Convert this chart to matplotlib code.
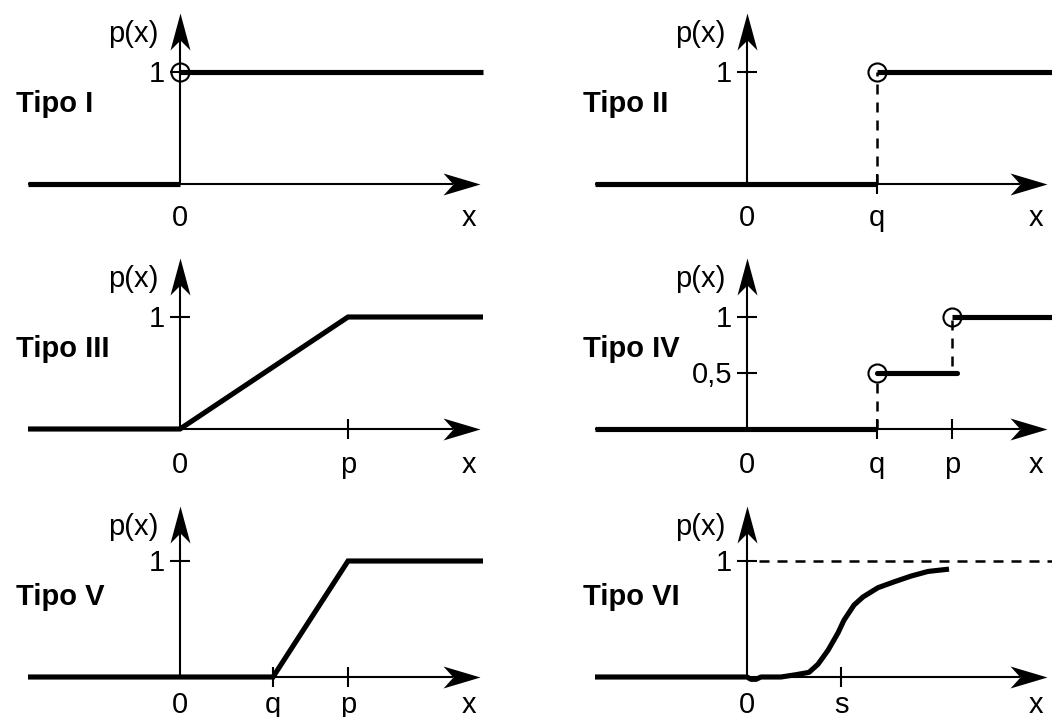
#Six types of p(x) step / ramp functions drawn as hand-style axis sketches
import numpy as np
import matplotlib
matplotlib.use('Agg')
import matplotlib.pyplot as plt
from matplotlib.path import Path

plt.rcParams['font.family'] = ['Liberation Sans', 'DejaVu Sans']

#Figure size in pixels and the pixel grid of the panels
W, H = 1052, 717
ORIGIN_X = [180, 747]            #pixel x of the vertical axis in each column
AXIS_Y = [184, 429, 677]         #pixel y of the horizontal axis in each row
ONE_Y = [72, 317, 561]           #pixel y of the level p(x) = 1 in each row
ROW_EDGES = [0, 245, 490, 717]
LABEL_DROP = [42, 44, 36]        #baseline of the labels under the x axis
SX = 100.0                       #pixels per x unit

#Shared values (x in units, y in units of p(x))
x_left = -1.52
x_tip = 3.0
x_end_left = 3.03
x_end_right = 3.12

#Tipo I
t1_x = [0.0, x_end_left]
t1_y = [1.0, 1.0]

#Tipo II
t2_q = 1.30
t2_x = [t2_q, x_end_right]
t2_y = [1.0, 1.0]

#Tipo III
t3_p = 1.68
t3_x = [x_left, 0.0, t3_p, x_end_left]
t3_y = [0.0, 0.0, 1.0, 1.0]

#Tipo IV
t4_q = 1.30
t4_p = 2.05
t4_mid_x = [t4_q, 2.10]
t4_mid_y = [0.5, 0.5]
t4_top_x = [t4_p, x_end_right]
t4_top_y = [1.0, 1.0]

#Tipo V
t5_q = 0.93
t5_p = 1.68
t5_x = [x_left, t5_q, t5_p, x_end_left]
t5_y = [0.0, 0.0, 1.0, 1.0]

#Tipo VI (hand drawn S-curve)
t6_s = 0.94
t6_x = [x_left, 0.0, 0.04, 0.09, 0.14, 0.34, 0.49, 0.62, 0.71, 0.81, 0.91, 0.97,
        1.07, 1.16, 1.31, 1.47, 1.64, 1.81, 2.02]
t6_y = [0.0, 0.0, -0.02, -0.02, 0.0, 0.0, 0.02, 0.04, 0.11, 0.23, 0.38, 0.49,
        0.62, 0.69, 0.77, 0.82, 0.87, 0.91, 0.93]

THICK = 3.7
THIN = 1.5
TEXT_SIZE = 21

#Stealth arrow heads (tip at the origin of the path)
ARROW_RIGHT = Path([(0, 0), (-37, 11), (-27, 0), (-37, -11), (0, 0)],
                   [Path.MOVETO, Path.LINETO, Path.LINETO, Path.LINETO, Path.CLOSEPOLY])
ARROW_UP = Path([(0, 0), (-10, -37), (0, -27), (10, -37), (0, 0)],
                [Path.MOVETO, Path.LINETO, Path.LINETO, Path.LINETO, Path.CLOSEPOLY])
ARROW_SIZE = 2 * 37 * 72 / 100.0


#Creates the axes of one panel so that the origin sits on the wanted pixel
def panel_axes(fig, col, row):
    x0 = col * W / 2
    x1 = x0 + W / 2
    y0, y1 = ROW_EDGES[row], ROW_EDGES[row + 1]
    ax = fig.add_axes([x0 / W, 1 - y1 / H, (x1 - x0) / W, (y1 - y0) / H])
    ox, oy = ORIGIN_X[col], AXIS_Y[row]
    sy = AXIS_Y[row] - ONE_Y[row]
    ax.set_xlim((x0 - ox) / SX, (x1 - ox) / SX)
    ax.set_ylim((oy - y1) / sy, (oy - y0) / sy)
    ax.axis('off')
    return ax, sy


def label(ax, text, x, y, dx, dy, ha, **kw):
    ax.annotate(text, xy=(x, y), xytext=(dx, dy), textcoords='offset pixels',
                ha=ha, va='baseline', fontsize=TEXT_SIZE, annotation_clip=False, **kw)


#Draws the two axes with arrows, the "0", "x", "p(x)" labels and the type name
def draw_frame(ax, sy, row, name):
    tip_y = 171 / sy
    ax.plot([x_left, x_tip - 0.27], [0, 0], color='k', lw=THIN, solid_capstyle='butt', clip_on=False)
    ax.plot([0, 0], [0, tip_y - 27 / sy], color='k', lw=THIN, solid_capstyle='butt', clip_on=False)
    ax.plot([x_tip], [0], marker=ARROW_RIGHT, markersize=ARROW_SIZE, color='k', mew=0, clip_on=False)
    ax.plot([0], [tip_y], marker=ARROW_UP, markersize=ARROW_SIZE, color='k', mew=0, clip_on=False)
    drop = -LABEL_DROP[row]
    label(ax, '0', 0, 0, 0, drop, 'center')
    label(ax, 'x', 2.89, 0, 0, drop, 'center')
    label(ax, 'p(x)', 0, 0, -22, 142, 'right')
    label(ax, name, 0, 0, -164, 72, 'left', fontweight='bold')


def xtick(ax, x, text, row):
    ax.plot([x], [0], marker='|', markersize=14.4, mew=THIN, color='k', clip_on=False)
    label(ax, text, x, 0, 0, -LABEL_DROP[row], 'center')


def ytick(ax, y, text):
    ax.plot([0], [y], marker='_', markersize=14.4, mew=THIN, color='k', clip_on=False)
    label(ax, text, 0, y, -15, -10, 'right')


def thick(ax, x, y):
    ax.plot(x, y, color='k', lw=THICK, solid_capstyle='butt', solid_joinstyle='miter', clip_on=False)


def open_circle(ax, x, y):
    ax.plot([x], [y], marker='o', markersize=13, mfc='none', mec='k', mew=THIN, clip_on=False)


def dashed(ax, x, y):
    ax.plot(x, y, color='k', lw=1.8, dashes=(4, 3.2), clip_on=False)


def main():
    fig = plt.figure(figsize=(W / 100, H / 100), dpi=100)

    #Tipo I
    ax, sy = panel_axes(fig, 0, 0)
    draw_frame(ax, sy, 0, 'Tipo I')
    thick(ax, [x_left, 0.0], [0.0, 0.0])
    thick(ax, t1_x, t1_y)
    ytick(ax, 1.0, '1')
    open_circle(ax, t1_x[0], t1_y[0])

    #Tipo II
    ax, sy = panel_axes(fig, 1, 0)
    draw_frame(ax, sy, 0, 'Tipo II')
    thick(ax, [x_left, t2_q], [0.0, 0.0])
    thick(ax, t2_x, t2_y)
    dashed(ax, [t2_q, t2_q], [0.0, 1.0])
    xtick(ax, t2_q, 'q', 0)
    ytick(ax, 1.0, '1')
    open_circle(ax, t2_x[0], t2_y[0])

    #Tipo III
    ax, sy = panel_axes(fig, 0, 1)
    draw_frame(ax, sy, 1, 'Tipo III')
    thick(ax, t3_x, t3_y)
    xtick(ax, t3_p, 'p', 1)
    ytick(ax, 1.0, '1')

    #Tipo IV
    ax, sy = panel_axes(fig, 1, 1)
    draw_frame(ax, sy, 1, 'Tipo IV')
    thick(ax, [x_left, t4_q], [0.0, 0.0])
    ax.plot(t4_mid_x, t4_mid_y, color='k', lw=THICK, solid_capstyle='round')
    thick(ax, t4_top_x, t4_top_y)
    dashed(ax, [t4_q, t4_q], [0.0, 0.5])
    dashed(ax, [t4_p, t4_p], [0.56, 1.0])
    xtick(ax, t4_q, 'q', 1)
    xtick(ax, t4_p, 'p', 1)
    ytick(ax, 1.0, '1')
    ytick(ax, 0.5, '0,5')
    open_circle(ax, t4_mid_x[0], t4_mid_y[0])
    open_circle(ax, t4_top_x[0], t4_top_y[0])

    #Tipo V
    ax, sy = panel_axes(fig, 0, 2)
    draw_frame(ax, sy, 2, 'Tipo V')
    thick(ax, t5_x, t5_y)
    xtick(ax, t5_q, 'q', 2)
    xtick(ax, t5_p, 'p', 2)
    ytick(ax, 1.0, '1')

    #Tipo VI
    ax, sy = panel_axes(fig, 1, 2)
    draw_frame(ax, sy, 2, 'Tipo VI')
    dashed(ax, [0.12, x_end_right], [1.0, 1.0])
    ax.plot(t6_x, t6_y, color='k', lw=THICK, solid_capstyle='butt', solid_joinstyle='round', clip_on=False)
    xtick(ax, t6_s, 's', 2)
    ytick(ax, 1.0, '1')

    fig.savefig('out.png', dpi=100, facecolor='white')


if __name__ == "__main__":
    main()
